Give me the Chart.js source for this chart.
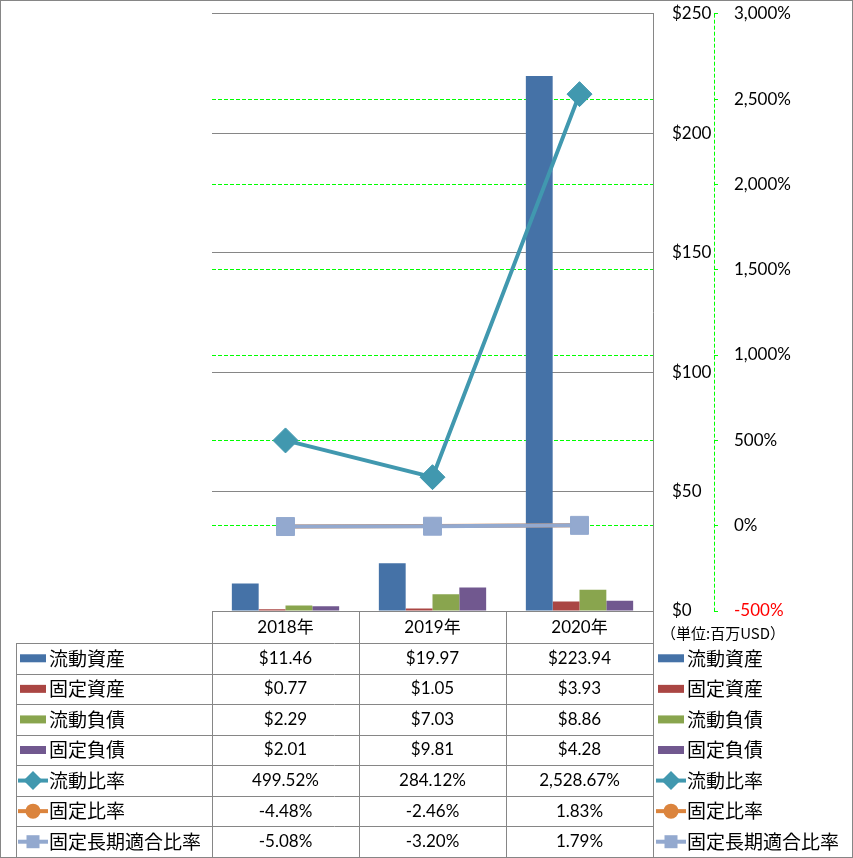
<!DOCTYPE html>
<html>
<head>
<meta charset="utf-8">
<script src="https://cdn.jsdelivr.net/npm/chart.js@4"></script>
<style>
  body { margin: 0; background: #fff; }
  #wrap { width: 853px; height: 858px; position: relative; }
</style>
</head>
<body>
<div id="wrap"><canvas id="finChart"></canvas></div>
<script>
// ---- data ----
const years = ["2018年", "2019年", "2020年"];
const seriesLabels = ["流動資産", "固定資産", "流動負債", "固定負債", "流動比率", "固定比率", "固定長期適合比率"];

const currentAssets = [11.46, 19.97, 223.94];
const fixedAssets = [0.77, 1.05, 3.93];
const currentLiabilities = [2.29, 7.03, 8.86];
const fixedLiabilities = [2.01, 9.81, 4.28];
const currentRatio = [499.52, 284.12, 2528.67];
const fixedRatio = [-4.48, -2.46, 1.83];
const fixedLongTermRatio = [-5.08, -3.20, 1.79];

const unitLabel = "（単位:百万USD）";

// ---- styles ----
const FONT_NUM = "Lato, 'Noto Sans CJK JP', sans-serif";
const FONT_JP = "'Noto Sans CJK JP', sans-serif";
const GRID_GRAY = "#868686";
const GREEN = "#00FF00";
const colors = ["#4572A7", "#AA4643", "#89A54E", "#71588F", "#4198AF", "#DB843D", "#93A9CF"];
const TABLE_BOTTOM = 857;

const fmtUsd = v => "$" + v.toFixed(2);
const fmtPct = v => v.toLocaleString("en-US", { minimumFractionDigits: 2, maximumFractionDigits: 2 }) + "%";

function barSet(i, data) {
    return {
        type: "bar",
        label: seriesLabels[i],
        data: data,
        yAxisID: "y",
        backgroundColor: colors[i],
        borderWidth: 0,
        categoryPercentage: 0.73,
        barPercentage: 1.0,
        order: 10
    };
}

function lineSet(i, data, style, radius, order) {
    return {
        type: "line",
        label: seriesLabels[i],
        data: data,
        yAxisID: "y1",
        borderColor: colors[i],
        backgroundColor: colors[i],
        borderWidth: 4,
        tension: 0,
        pointStyle: style,
        pointRadius: radius,
        pointBorderWidth: 1,
        pointBorderColor: colors[i],
        pointBackgroundColor: colors[i],
        order: order
    };
}

/* legend key drawn in the table */
function drawKey(ctx, i, cx, cy) {
    ctx.save();
    ctx.fillStyle = colors[i];
    ctx.strokeStyle = colors[i];
    if (i < 4) {
        ctx.fillRect(cx - 13, cy - 4, 26, 8);
    } else {
        ctx.lineWidth = 4;
        ctx.beginPath();
        ctx.moveTo(cx - 15, cy);
        ctx.lineTo(cx + 15, cy);
        ctx.stroke();
        ctx.beginPath();
        if (i === 4) {
            ctx.moveTo(cx, cy - 9.5);
            ctx.lineTo(cx + 9.5, cy);
            ctx.lineTo(cx, cy + 9.5);
            ctx.lineTo(cx - 9.5, cy);
            ctx.closePath();
        } else if (i === 5) {
            ctx.arc(cx, cy, 7.5, 0, Math.PI * 2);
        } else {
            ctx.rect(cx - 6.5, cy - 6.5, 13, 13);
        }
        ctx.fill();
    }
    ctx.restore();
}

/* =====================================
   DATA TABLE + LEGEND UNDER THE PLOT
===================================== */
const tablePlugin = {
    id: "dataTable",
    afterDraw(chart) {
        const { ctx, chartArea: area } = chart;
        const xs = chart.scales.x;
        const y1 = chart.scales.y1;
        const half = (xs.getPixelForValue(1) - xs.getPixelForValue(0)) / 2;
        const top = Math.round(area.bottom);
        const headBottom = top + 32;
        const rowH = (TABLE_BOTTOM - headBottom) / seriesLabels.length;

        const rows = [
            currentAssets.map(fmtUsd),
            fixedAssets.map(fmtUsd),
            currentLiabilities.map(fmtUsd),
            fixedLiabilities.map(fmtUsd),
            currentRatio.map(fmtPct),
            fixedRatio.map(fmtPct),
            fixedLongTermRatio.map(fmtPct)
        ];

        ctx.save();

        // dashed green line for the % axis
        ctx.strokeStyle = GREEN;
        ctx.lineWidth = 1;
        ctx.setLineDash([4, 2]);
        ctx.beginPath();
        const ax = Math.round(y1.left) + 0.5;
        ctx.moveTo(ax, area.top);
        ctx.lineTo(ax, area.bottom);
        ctx.stroke();
        ctx.setLineDash([]);

        // grid of the table
        ctx.strokeStyle = GRID_GRAY;
        ctx.beginPath();
        for (let r = 0; r <= seriesLabels.length; r++) {
            const y = Math.round(headBottom + r * rowH) + 0.5;
            ctx.moveTo(16, y);
            ctx.lineTo(area.right, y);
        }
        ctx.moveTo(16.5, headBottom);
        ctx.lineTo(16.5, TABLE_BOTTOM);
        const edges = years.map((_, i) => xs.getPixelForValue(i) - half);
        edges.push(xs.getPixelForValue(years.length - 1) + half);
        edges.forEach(e => {
            const x = Math.round(e) + 0.5;
            ctx.moveTo(x, top);
            ctx.lineTo(x, TABLE_BOTTOM);
        });
        ctx.stroke();

        // outer frame
        ctx.strokeRect(0.5, 0.5, 852, 857);

        ctx.fillStyle = "#000";
        ctx.textBaseline = "middle";
        ctx.textAlign = "center";
        ctx.font = "17px " + FONT_NUM;
        years.forEach((yr, i) => {
            ctx.fillText(yr, xs.getPixelForValue(i), (top + headBottom) / 2 + 1);
        });

        rows.forEach((vals, r) => {
            const cy = headBottom + (r + 0.5) * rowH;
            ctx.textAlign = "center";
            ctx.font = "17px " + FONT_NUM;
            vals.forEach((v, i) => ctx.fillText(v, xs.getPixelForValue(i), cy));

            ctx.textAlign = "left";
            ctx.font = "19px " + FONT_JP;
            drawKey(ctx, r, 33, cy);
            ctx.fillText(seriesLabels[r], 49, cy);
            drawKey(ctx, r, 671, cy);
            ctx.fillText(seriesLabels[r], 687, cy);
        });

        ctx.font = "15px " + FONT_JP;
        ctx.textAlign = "left";
        ctx.fillText(unitLabel, 661, 633);

        ctx.restore();
    }
};

const ctx = document.getElementById("finChart").getContext("2d");

new Chart(ctx, {
    data: {
        labels: years,
        datasets: [
            barSet(0, currentAssets),
            barSet(1, fixedAssets),
            barSet(2, currentLiabilities),
            barSet(3, fixedLiabilities),
            lineSet(4, currentRatio, "rectRot", 12.5, 0),
            lineSet(5, fixedRatio, "circle", 8, 2),
            lineSet(6, fixedLongTermRatio, "rect", 12.7, 1)
        ]
    },
    options: {
        responsive: true,
        maintainAspectRatio: false,
        animation: false,
        layout: { padding: { left: 212, top: 13, right: 0, bottom: 247 } },
        plugins: {
            legend: { display: false },
            tooltip: { enabled: false }
        },
        scales: {
            x: { display: false },
            y: {
                position: "right",
                weight: 0,
                min: 0,
                max: 250,
                ticks: {
                    stepSize: 50,
                    padding: 19,
                    color: "#000",
                    font: { family: FONT_NUM, size: 17 },
                    callback: v => "$" + v
                },
                grid: { color: GRID_GRAY, drawTicks: false },
                border: { display: true, color: GRID_GRAY },
                afterFit: s => { s.width = 61; s.paddingTop = 0; s.paddingBottom = 0; }
            },
            y1: {
                position: "right",
                weight: 1,
                min: -500,
                max: 3000,
                ticks: {
                    stepSize: 500,
                    padding: 16,
                    font: { family: FONT_NUM, size: 17 },
                    color: c => c.tick.value < 0 ? "#FF0000" : "#000",
                    callback: v => v.toLocaleString("en-US") + "%"
                },
                grid: {
                    color: c => (c.tick.value === 3000 || c.tick.value === -500) ? "rgba(0,0,0,0)" : GREEN,
                    tickColor: GREEN,
                    tickLength: 4,
                    tickBorderDash: []
                },
                border: { display: false, dash: [4, 2] },
                afterFit: s => { s.width = 139; s.paddingTop = 0; s.paddingBottom = 0; }
            }
        }
    },
    plugins: [tablePlugin]
});
</script>
</body>
</html>
